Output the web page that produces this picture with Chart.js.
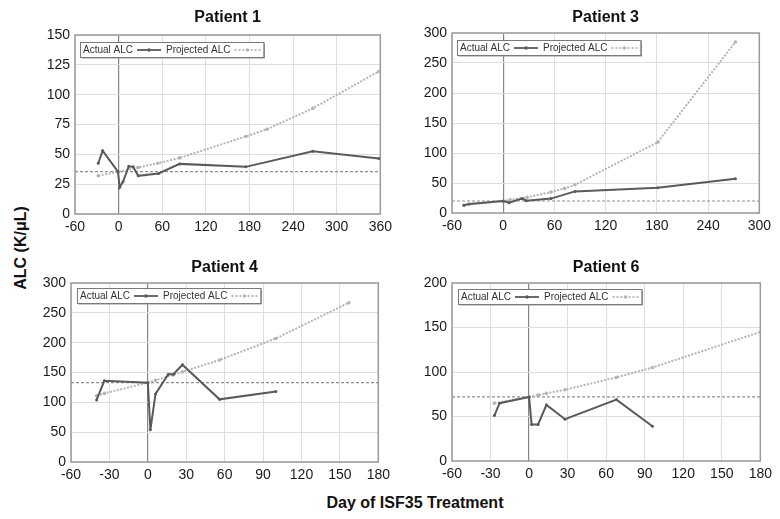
<!DOCTYPE html>
<html>
<head>
<meta charset="utf-8">
<script src="https://cdn.jsdelivr.net/npm/chart.js"></script>
<style>
  body { margin: 0; background: #fff; width: 780px; height: 519px; position: relative; overflow: hidden;
         font-family: "Liberation Sans", Arial, sans-serif; }
  canvas { position: absolute; }
  .lab { position: absolute; font-weight: bold; font-size: 16px; color: #111; white-space: nowrap; }
</style>
</head>
<body>
<canvas id="p1" width="362" height="236" style="left:35px;top:0px"></canvas>
<canvas id="p3" width="364" height="235" style="left:412px;top:0px"></canvas>
<canvas id="p4" width="364" height="236" style="left:31px;top:248px"></canvas>
<canvas id="p6" width="365" height="235" style="left:412px;top:248px"></canvas>
<div class="lab" id="ylab" style="left:21px;top:248px;transform:translate(-50%,-50%) rotate(-90deg)">ALC (K/μL)</div>
<div class="lab" style="left:415px;top:503px;transform:translate(-50%,-50%)">Day of ISF35 Treatment</div>
<script>
// Patient 1
const p1ActualDays = [-28, -22, -1, 1.5, 6, 14, 20, 27, 55, 84, 175, 267, 358];
const p1Actual     = [42.5, 53, 35.5, 22.5, 27, 40, 39.5, 32, 34, 42, 39.5, 52.5, 46.5];
const p1ProjDays   = [-28, 0, 27, 54, 84, 175, 204, 267, 358];
const p1Proj       = [32, 35.5, 39, 42.5, 47, 65, 71, 88.5, 119.5];
const p1Baseline   = 35.5;
const p1XTicks = [-60, 0, 60, 120, 180, 240, 300, 360];
const p1YTicks = [0, 25, 50, 75, 100, 125, 150];

// Patient 3
const p3ActualDays = [-46, -40, 0, 7, 22, 27, 56, 84, 181, 272];
const p3Actual     = [13, 15, 20, 17, 24, 20.5, 24, 36, 42, 57];
const p3ProjDays   = [-46, 0, 8, 28, 56, 72, 84, 181, 272];
const p3Proj       = [13, 20, 22, 26, 35, 41, 47, 118, 285];
const p3Baseline   = 20;
const p3XTicks = [-60, 0, 60, 120, 180, 240, 300];
const p3YTicks = [0, 50, 100, 150, 200, 250, 300];

// Patient 4
const p4ActualDays = [-40, -34, 0, 2, 6, 16, 20, 27, 56, 100];
const p4Actual     = [104, 136, 133, 54, 114, 147, 147, 163, 105, 118];
const p4ProjDays   = [-40, -34, 0, 6, 20, 27, 56, 100, 157];
const p4Proj       = [111, 115, 133, 137, 146, 151, 171, 207, 267];
const p4Baseline   = 133;
const p4XTicks = [-60, -30, 0, 30, 60, 90, 120, 150, 180];
const p4YTicks = [0, 50, 100, 150, 200, 250, 300];

// Patient 6
const p6ActualDays = [-27, -23, 0, 2, 7, 13.5, 28, 68, 96];
const p6Actual     = [51, 65, 72, 41, 41, 63, 47, 69, 39];
const p6ProjDays   = [-27, 0, 7, 13.5, 28, 68, 96, 180];
const p6Proj       = [65, 72, 74, 76, 80, 94, 105, 145];
const p6Baseline   = 72;
const p6XTicks = [-60, -30, 0, 30, 60, 90, 120, 150, 180];
const p6YTicks = [0, 50, 100, 150, 200];

const FONT = '"Liberation Sans", Arial, sans-serif';
const ACTUAL_COLOR = '#5a5a5a';
const PROJ_COLOR = '#b4b4b4';

const pts = (xs, ys) => xs.map((x, i) => ({ x: x, y: ys[i] }));

// plot frame + legend box (text first, then line sample)
const frameLegend = {
  id: 'frameLegend',
  beforeDatasetsDraw(chart) {
    const a = chart.chartArea, c = chart.ctx;
    c.save();
    c.strokeStyle = '#9a9a9a';
    c.lineWidth = 1.5;
    c.strokeRect(a.left, a.top, a.right - a.left, a.bottom - a.top);
    c.restore();
  },
  afterDraw(chart) {
    const a = chart.chartArea, c = chart.ctx;
    const o = chart.options.plugins.frameLegend || {};
    const x0 = a.left + (o.dx || 5), y0 = a.top + (o.dy || 7), h = 15;
    c.save();
    c.font = '10px ' + FONT;
    const t1 = 'Actual ALC', t2 = 'Projected ALC';
    const w1 = c.measureText(t1).width, w2 = c.measureText(t2).width;
    const w = 3 + w1 + 4 + 24 + 5 + w2 + 4 + 26 + 3;
    c.fillStyle = '#9a9a9a';
    c.fillRect(x0 + 1.5, y0 + 1.5, w, h);
    c.fillStyle = '#fff';
    c.fillRect(x0, y0, w, h);
    c.strokeStyle = '#7a7a7a';
    c.lineWidth = 1;
    c.strokeRect(x0 + 0.5, y0 + 0.5, w, h);
    const ym = y0 + h / 2 + 0.5;
    c.fillStyle = '#333';
    c.textBaseline = 'middle';
    let x = x0 + 3;
    c.fillText(t1, x, ym);
    x += w1 + 4;
    c.strokeStyle = ACTUAL_COLOR; c.lineWidth = 1.8; c.setLineDash([]);
    c.beginPath(); c.moveTo(x, ym); c.lineTo(x + 24, ym); c.stroke();
    c.fillStyle = ACTUAL_COLOR; c.beginPath(); c.arc(x + 12, ym, 1.8, 0, Math.PI * 2); c.fill();
    x += 24 + 5;
    c.fillStyle = '#333';
    c.fillText(t2, x, ym);
    x += w2 + 4;
    c.strokeStyle = PROJ_COLOR; c.lineWidth = 1.8; c.setLineDash([2, 2]);
    c.beginPath(); c.moveTo(x, ym); c.lineTo(x + 26, ym); c.stroke();
    c.setLineDash([]);
    c.fillStyle = PROJ_COLOR; c.beginPath(); c.arc(x + 13, ym, 1.8, 0, Math.PI * 2); c.fill();
    c.restore();
  }
};

function makeChart(id, title, titlePad, actualDays, actual, projDays, proj, baseline, xTicks, yTicks, legendPos) {
  const xMin = xTicks[0], xMax = xTicks[xTicks.length - 1];
  return new Chart(id, {
    type: 'scatter',
    data: {
      datasets: [
        {
          label: 'Actual ALC',
          data: pts(actualDays, actual),
          showLine: true,
          borderColor: ACTUAL_COLOR,
          backgroundColor: ACTUAL_COLOR,
          borderWidth: 2,
          pointRadius: 1.5,
          pointBorderWidth: 0
        },
        {
          label: 'Projected ALC',
          data: pts(projDays, proj),
          showLine: true,
          borderColor: PROJ_COLOR,
          backgroundColor: PROJ_COLOR,
          borderWidth: 2,
          borderDash: [2, 1.5],
          pointRadius: 1.8,
          pointBorderWidth: 0
        },
        {
          label: 'Baseline',
          data: [{ x: xMin, y: baseline }, { x: xMax, y: baseline }],
          showLine: true,
          borderColor: '#8f8f8f',
          borderWidth: 1.2,
          borderDash: [3, 2],
          pointRadius: 0
        }
      ]
    },
    options: {
      responsive: false,
      animation: false,
      devicePixelRatio: 1,
      layout: { padding: { left: 0, right: 13, top: 0, bottom: 0 } },
      elements: { line: { tension: 0 } },
      plugins: {
        legend: { display: false },
        tooltip: { enabled: false },
        title: {
          display: true,
          text: title,
          fullSize: false,
          color: '#111',
          font: { family: FONT, size: 16, weight: 'bold' },
          padding: titlePad
        },
        frameLegend: legendPos
      },
      scales: {
        x: {
          type: 'linear',
          min: xMin,
          max: xMax,
          afterBuildTicks: s => { s.ticks = xTicks.map(v => ({ value: v })); },
          afterFit: s => { s.height = 22; },
          ticks: { color: '#1a1a1a', font: { family: FONT, size: 14 }, padding: 5, maxRotation: 0, autoSkip: false },
          grid: {
            drawTicks: false,
            color: ctx => (ctx.tick && ctx.tick.value === 0) ? '#858585' : '#dedede',
            lineWidth: ctx => (ctx.tick && ctx.tick.value === 0) ? 1.2 : 1
          },
          border: { display: false }
        },
        y: {
          min: yTicks[0],
          max: yTicks[yTicks.length - 1],
          afterBuildTicks: s => { s.ticks = yTicks.map(v => ({ value: v })); },
          afterFit: s => { s.width = 40; },
          ticks: { color: '#1a1a1a', font: { family: FONT, size: 14 }, padding: 5, autoSkip: false },
          grid: { drawTicks: false, color: '#dedede' },
          border: { display: false }
        }
      }
    },
    plugins: [frameLegend]
  });
}

makeChart('p1', 'Patient 1', { top: 8, bottom: 7.8 }, p1ActualDays, p1Actual, p1ProjDays, p1Proj, p1Baseline, p1XTicks, p1YTicks, { dx: 5, dy: 7 });
makeChart('p3', 'Patient 3', { top: 8, bottom: 5.8 }, p3ActualDays, p3Actual, p3ProjDays, p3Proj, p3Baseline, p3XTicks, p3YTicks, { dx: 5, dy: 7 });
makeChart('p4', 'Patient 4', { top: 9.7, bottom: 6.1 }, p4ActualDays, p4Actual, p4ProjDays, p4Proj, p4Baseline, p4XTicks, p4YTicks, { dx: 6, dy: 5 });
makeChart('p6', 'Patient 6', { top: 10.1, bottom: 5.7 }, p6ActualDays, p6Actual, p6ProjDays, p6Proj, p6Baseline, p6XTicks, p6YTicks, { dx: 6, dy: 6 });
</script>
</body>
</html>
